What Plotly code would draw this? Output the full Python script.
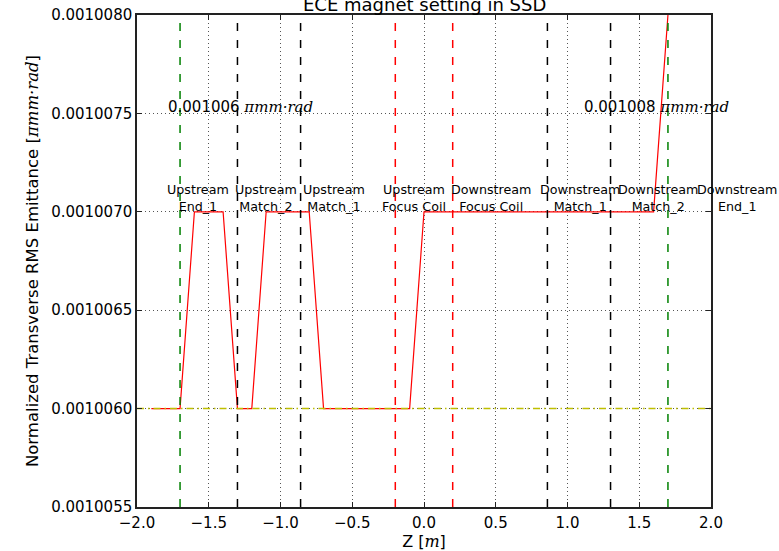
import plotly.graph_objects as go

# ---- data ----
z_pts = [-1.9, -1.7, -1.6, -1.4, -1.3, -1.2, -1.1, -0.8, -0.7, -0.1, 0.0, 1.6, 1.7]
emit = [0.0010060, 0.0010060, 0.0010070, 0.0010070, 0.0010060, 0.0010060, 0.0010070,
        0.0010070, 0.0010060, 0.0010060, 0.0010070, 0.0010070, 0.0010080]
ref_emit = 0.0010060

marker_z = [-1.7, -1.3, -0.86, -0.2, 0.2, 0.86, 1.3, 1.7]
marker_colors = ["#008000", "#000000", "#000000", "#ff0000", "#ff0000", "#000000", "#000000", "#008000"]

label_x = [-1.572, -1.102, -0.625, -0.068, 0.469, 1.085, 1.632, 2.182]
label_text = ["Upstream<br>End_1", "Upstream<br>Match_2", "Upstream<br>Match_1", "Upstream<br>Focus Coil",
              "Downstream<br>Focus Coil", "Downstream<br>Match_1", "Downstream<br>Match_2", "Downstream<br>End_1"]
label_y = 0.0010070

minmax_x = [-1.8, 1.1]
minmax_text = ["0.001006", "0.001008"]
minmax_y = 0.0010075

x_range = [-2.0, 2.0]
y_range = [0.0010055, 0.0010080]

FONT = "DejaVu Sans"
unit = '<span style="font-family:DejaVu Serif"><i>πmm·rad</i></span>'

fig = go.Figure()

fig.add_trace(go.Scatter(x=z_pts, y=emit, mode="lines",
                         line=dict(color="#ff0000", width=1.2), showlegend=False))
fig.add_trace(go.Scatter(x=x_range, y=[ref_emit, ref_emit], mode="lines",
                         line=dict(color="#bfbf00", width=1.5, dash="7px,4px,1.5px,4px"),
                         showlegend=False))

for zx, c in zip(marker_z, marker_colors):
    fig.add_shape(type="line", xref="x", yref="paper", x0=zx, x1=zx, y0=0, y1=1,
                  line=dict(color=c, width=1.5, dash="8px,9px"), layer="above")

for lx, lt in zip(label_x, label_text):
    if x_range[0] <= lx <= x_range[1]:
        xref, xval = "x", lx
    else:
        # label lies beyond the axis end: place it relative to the x domain
        xref, xval = "x domain", (lx - x_range[0]) / (x_range[1] - x_range[0])
    fig.add_annotation(x=xval, y=label_y, xref=xref, yref="y", text=lt, showarrow=False,
                       xanchor="center", yanchor="bottom", yshift=-4, align="center",
                       font=dict(family=FONT, size=12.7, color="black"))

for mx, mt in zip(minmax_x, minmax_text):
    fig.add_annotation(x=mx, y=minmax_y, xref="x", yref="y", text=mt + " " + unit,
                       showarrow=False, xanchor="left", yanchor="bottom", yshift=-5,
                       font=dict(family=FONT, size=15, color="black"))

fig.add_annotation(x=0.5, y=1, xref="paper", yref="paper", text="ECE magnet setting in SSD",
                   showarrow=False, xanchor="center", yanchor="bottom", yshift=-2,
                   font=dict(family=FONT, size=18, color="black"))

axis_common = dict(showline=True, linecolor="#222222", linewidth=1.5, mirror="ticks",
                   ticks="inside", ticklen=5, tickcolor="#222222", zeroline=False,
                   showgrid=True, gridcolor="#555555", gridwidth=1, griddash="1px,3px",
                   automargin=False,
                   tickfont=dict(family=FONT, size=15, color="black"))

fig.update_xaxes(range=x_range, tick0=-2.0, dtick=0.5, tickformat=".1f", ticklabelstandoff=1,
                 title=dict(text='Z [<span style="font-family:DejaVu Serif"><i>m</i></span>]',
                            font=dict(family=FONT, size=16, color="black"), standoff=12),
                 **axis_common)
fig.update_yaxes(range=y_range, tick0=0.0010055, dtick=0.0000005, tickformat=".7f",
                 title=dict(text="Normalized Transverse RMS Emittance [" + unit + "]",
                            font=dict(family=FONT, size=16.5, color="black"), standoff=8),
                 **axis_common)

fig.update_layout(width=779, height=551, plot_bgcolor="white", paper_bgcolor="white",
                  margin=dict(l=137, r=68, t=15, b=44), showlegend=False)

fig.write_html("out.html")
